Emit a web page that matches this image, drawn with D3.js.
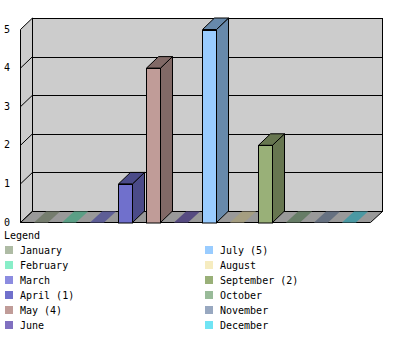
<!DOCTYPE html>
<html>
<head>
<meta charset="utf-8">
<script src="https://cdn.jsdelivr.net/npm/d3@7"></script>
<style>
  body { margin: 0; background: #fff; }
  text { font-family: "DejaVu Sans Mono", "Liberation Mono", monospace; font-size: 10px; fill: #000; }
</style>
</head>
<body>
<svg width="400" height="350"></svg>
<script>
// Data.
const months = ['January', 'February', 'March', 'April', 'May', 'June',
  'July', 'August', 'September', 'October', 'November', 'December'];
const counts = [0, 0, 0, 1, 4, 0, 5, 0, 2, 0, 0, 0];
const colours = ['#aebba4', '#88eec8', '#8c8ce0', '#7070cc', '#c09c98', '#8070c0',
  '#99ccff', '#f6ecc0', '#99b078', '#99bb99', '#98a8c0', '#70e4f4'];
const yTicks = [0, 1, 2, 3, 4, 5];

// 1. Dimensions.
const svg = d3.select('svg');
const left = 20;
const right = 370;
const dx = 12;
const dy = 11.5;
const back0 = 211;
const backTop = 18;

const shade = c => {
  const col = d3.rgb(c);
  return d3.rgb(col.r * 0.67, col.g * 0.67, col.b * 0.67).formatHex();
};

// 2. Scales.
const xScale = d3
  .scaleBand()
  .domain(months)
  .range([left, right])
  .paddingInner(0.5)
  .paddingOuter(0.5);

const yScale = d3
  .scaleLinear()
  .domain([0, 5])
  .range([back0, backTop]);

const front = v => yScale(v) + dy;
const pts = a => a.map(p => p.join(',')).join(' ');

// 3. Walls and floor.
svg.append('rect')
  .attr('x', left + dx + 0.5).attr('y', backTop + 0.5)
  .attr('width', right + dx - left - dx).attr('height', back0 - backTop)
  .attr('fill', '#cccccc').attr('stroke', '#000');

svg.append('polygon')
  .attr('points', pts([[left + 0.5, front(5)], [left + dx + 0.5, yScale(5)],
    [left + dx + 0.5, yScale(0)], [left + 0.5, front(0)]]))
  .attr('fill', '#cccccc').attr('stroke', '#000');

svg.append('polygon')
  .attr('points', pts([[left + 0.5, front(0)], [left + dx + 0.5, yScale(0) + 0.5],
    [right + dx + 0.5, yScale(0) + 0.5], [right + 0.5, front(0)]]))
  .attr('fill', '#999999').attr('stroke', '#000');

// Gridlines on the back and left walls.
svg.selectAll('line.grid')
  .data(yTicks.slice(1, -1))
  .enter()
  .append('line')
  .attr('x1', left + dx).attr('x2', right + dx)
  .attr('y1', d => Math.round(yScale(d)) + 0.5)
  .attr('y2', d => Math.round(yScale(d)) + 0.5)
  .attr('stroke', '#000');

svg.selectAll('line.side')
  .data(yTicks.slice(1, -1))
  .enter()
  .append('line')
  .attr('x1', left + 0.5).attr('y1', d => front(d))
  .attr('x2', left + dx + 0.5).attr('y2', d => yScale(d))
  .attr('stroke', '#000');

// Axis labels.
svg.selectAll('text.tick')
  .data(yTicks)
  .enter()
  .append('text')
  .attr('x', 4)
  .attr('y', d => front(d) + 3)
  .text(d => d);

// 4. Bars.
months.forEach((m, i) => {
  const v = counts[i];
  const x0 = xScale(m);
  const x1 = x0 + xScale.bandwidth();
  const yf = front(v);
  const dark = shade(colours[i]);
  const g = svg.append('g');
  if (v === 0) {
    g.append('polygon')
      .attr('points', pts([[x0, front(0)], [x0 + dx, yScale(0) + 0.5],
        [x1 + dx, yScale(0) + 0.5], [x1, front(0)]]))
      .attr('fill', dark);
    return;
  }
  g.append('polygon')
    .attr('points', pts([[x1 + 0.5, yf], [x1 + dx + 0.5, yScale(v)],
      [x1 + dx + 0.5, yScale(0)], [x1 + 0.5, front(0)]]))
    .attr('fill', dark).attr('stroke', '#000');
  g.append('polygon')
    .attr('points', pts([[x0 + 0.5, yf], [x0 + dx + 0.5, yScale(v)],
      [x1 + dx + 0.5, yScale(v)], [x1 + 0.5, yf]]))
    .attr('fill', dark).attr('stroke', '#000');
  g.append('rect')
    .attr('x', x0 + 0.5).attr('y', Math.round(yf) + 0.5)
    .attr('width', x1 - x0).attr('height', front(0) - Math.round(yf))
    .attr('fill', colours[i]).attr('stroke', '#000');
});

// 5. Legend.
svg.append('text').attr('x', 4).attr('y', 239).text('Legend');

const items = svg.selectAll('g.item')
  .data(months)
  .enter()
  .append('g')
  .attr('transform', (d, i) =>
    `translate(${i < 6 ? 5 : 205},${246 + (i % 6) * 15})`);

items.append('rect')
  .attr('width', 8).attr('height', 8)
  .attr('fill', (d, i) => colours[i]);

items.append('text')
  .attr('x', 15).attr('y', 8)
  .text((d, i) => counts[i] > 0 ? `${d} (${counts[i]})` : d);
</script>
</body>
</html>
